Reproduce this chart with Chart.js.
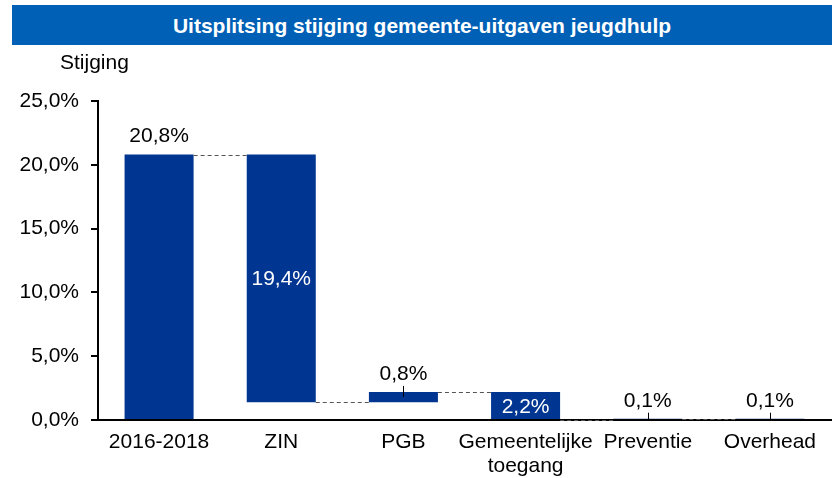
<!DOCTYPE html>
<html>
<head>
<meta charset="utf-8">
<script src="https://cdn.jsdelivr.net/npm/chart.js@4"></script>
<style>
  html, body { margin: 0; padding: 0; background: #fff; }
  body { width: 835px; height: 478px; position: relative; overflow: hidden; font-family: "Liberation Sans", Arial, sans-serif; }
  #banner { position: absolute; left: 12px; top: 5px; width: 820px; height: 40px; background: #0060b5; color: #fff;
            font-weight: bold; font-size: 21px; line-height: 41px; text-align: center; }
  #ytitle { position: absolute; left: 60px; top: 50px; font-size: 21px; color: #000; }
  #wrap { position: absolute; left: 0; top: 0; width: 835px; height: 478px; }
</style>
</head>
<body>
<div id="wrap"><canvas id="chart"></canvas></div>
<div id="banner">Uitsplitsing stijging gemeente-uitgaven jeugdhulp</div>
<div id="ytitle">Stijging</div>
<script>
// waterfall: first entry is the total, the rest walk it back down
const categories = ['2016-2018', 'ZIN', 'PGB', ['Gemeentelijke', 'toegang'], 'Preventie', 'Overhead'];
const steps = [20.8, -19.4, 0.8, -2.2, 0.1, -0.1];
const yTicks = [0, 5, 10, 15, 20, 25];

const levels = [];
steps.reduce((acc, s) => { const v = +(acc + s).toFixed(2); levels.push(v); return v; }, 0);
const floating = levels.map((v, i) => i === 0 ? [0, v] : [levels[i - 1], v]);

const FONT = "'Liberation Sans', Arial, sans-serif";
const pct = v => v.toFixed(1).replace('.', ',') + '%';

const waterfallExtras = {
  id: 'waterfallExtras',
  afterDatasetsDraw(chart) {
    const ctx = chart.ctx;
    const y = chart.scales.y;
    const bars = chart.getDatasetMeta(0).data;
    ctx.save();
    // dashed connectors
    ctx.strokeStyle = '#555';
    ctx.lineWidth = 1;
    ctx.setLineDash([4, 3]);
    for (let i = 0; i < bars.length - 1; i++) {
      const py = Math.round(y.getPixelForValue(levels[i])) + 0.5;
      ctx.beginPath();
      ctx.moveTo(bars[i].x + bars[i].width / 2, py);
      ctx.lineTo(bars[i + 1].x - bars[i + 1].width / 2, py);
      ctx.stroke();
    }
    ctx.setLineDash([]);
    // value labels
    ctx.font = '21px ' + FONT;
    ctx.textAlign = 'center';
    ctx.textBaseline = 'middle';
    bars.forEach((bar, i) => {
      const top = y.getPixelForValue(Math.max(...floating[i]));
      const bottom = y.getPixelForValue(Math.min(...floating[i]));
      const txt = pct(Math.abs(steps[i]));
      if (i > 0 && bottom - top > 20) {
        ctx.fillStyle = '#fff';
        ctx.fillText(txt, bar.x, (top + bottom) / 2 + 1);
      } else {
        ctx.fillStyle = '#000';
        ctx.fillText(txt, bar.x, top - 18);
        if (i > 0) {
          ctx.strokeStyle = '#000';
          ctx.beginPath();
          ctx.moveTo(Math.round(bar.x) + 0.5, top - 6);
          ctx.lineTo(Math.round(bar.x) + 0.5, Math.min(top + 5, y.bottom));
          ctx.stroke();
        }
      }
    });
    ctx.restore();
  }
};

new Chart(document.getElementById('chart'), {
  type: 'bar',
  data: {
    labels: categories,
    datasets: [{
      data: floating,
      backgroundColor: '#003591',
      borderWidth: 0,
      categoryPercentage: 1,
      barPercentage: 0.565
    }]
  },
  options: {
    responsive: true,
    maintainAspectRatio: false,
    animation: false,
    layout: { padding: { top: 101, right: 4, left: 0, bottom: 0 } },
    plugins: { legend: { display: false }, tooltip: { enabled: false } },
    scales: {
      x: {
        grid: { display: false },
        border: { display: true, color: '#000', width: 2 },
        ticks: { color: '#000', font: { family: FONT, size: 21, lineHeight: 1.15 }, padding: 2, maxRotation: 0, autoSkip: false },
        afterFit(scale) { scale.height = 58; }
      },
      y: {
        min: 0,
        max: 25,
        afterBuildTicks(scale) { scale.ticks = yTicks.map(v => ({ value: v })); },
        grid: { drawOnChartArea: false, drawTicks: true, tickLength: 7, color: '#000', lineWidth: 2 },
        border: { display: true, color: '#000', width: 2 },
        ticks: { color: '#000', font: { family: FONT, size: 21 }, padding: 12, callback: v => pct(v) },
        afterFit(scale) { scale.width = 98; }
      }
    }
  },
  plugins: [waterfallExtras]
});
</script>
</body>
</html>
